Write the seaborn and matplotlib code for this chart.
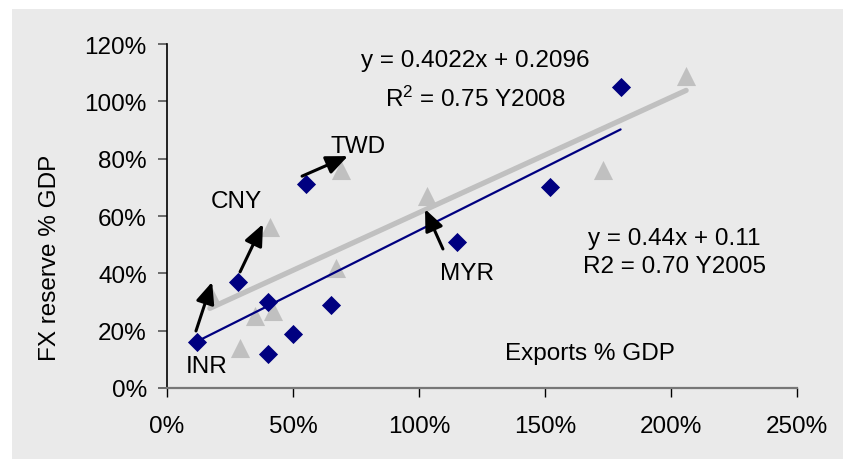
import matplotlib
matplotlib.use("Agg")
import matplotlib.pyplot as plt
from matplotlib.patches import Rectangle
from matplotlib.ticker import PercentFormatter
import numpy as np
import pandas as pd
import seaborn as sns

# exports % GDP / FX reserve % GDP
exp_2005 = [12, 28, 40, 40, 50, 65, 55, 115, 152, 180]
fx_2005 = [16, 37, 30, 12, 19, 29, 71, 51, 70, 105]
exp_2008 = [17, 29, 35, 42, 41, 67, 69, 103, 173, 206]
fx_2008 = [33, 14, 25, 27, 56, 42, 76, 67, 76, 109]

# trend lines as printed on the chart (slope, intercept)
fit_2005 = (0.44, 0.11)
fit_2008 = (0.4022, 0.2096)

x_ticks = [0, 50, 100, 150, 200, 250]
y_ticks = [0, 20, 40, 60, 80, 100, 120]

# currency labels and arrows (2005 -> 2008)
cur_names = ["INR", "CNY", "TWD", "MYR"]
cur_label_xy = [(15.9, 5.6), (27.4, 63.1), (75.8, 82.4), (119, 38)]
arrow_tail = [(11.5, 19.9), (29.0, 40.5), (53.6, 73.9), (109.5, 48.5)]
arrow_head = [(17.9, 37.0), (38.1, 57.2), (71.8, 80.9), (102.4, 62.4)]

df05 = pd.DataFrame({"x": np.array(exp_2005) / 100, "y": np.array(fx_2005) / 100})
df08 = pd.DataFrame({"x": np.array(exp_2008) / 100, "y": np.array(fx_2008) / 100})


def trend(df, fit):
    xs = np.array([df["x"].min(), df["x"].max()])
    return pd.DataFrame({"x": xs, "y": fit[0] * xs + fit[1]})


sns.set_theme(style="ticks")
plt.rcParams["font.family"] = ["Liberation Sans", "DejaVu Sans"]
plt.rcParams["text.color"] = "black"
plt.rcParams["mathtext.fontset"] = "custom"
plt.rcParams["mathtext.rm"] = "Liberation Sans"
plt.rcParams["mathtext.it"] = "Liberation Sans:italic"
FS = 17.5

fig = plt.figure(figsize=(8.46, 4.6), dpi=100, facecolor="white")
fig.patches.append(Rectangle((12 / 846, 0), 831 / 846, 450 / 460,
                             transform=fig.transFigure, facecolor="#eaeaea",
                             edgecolor="none", zorder=-10))
ax = fig.add_axes([167 / 846, 71 / 460, 630 / 846, 344 / 460])
ax.set_facecolor("none")

sns.scatterplot(data=df08, x="x", y="y", marker="^", s=190, color="#c0c0c0",
                linewidth=0, ax=ax, zorder=2)
sns.lineplot(data=trend(df08, fit_2008), x="x", y="y", color="#c0c0c0",
             linewidth=3.8, ax=ax, zorder=3)
sns.lineplot(data=trend(df05, fit_2005), x="x", y="y", color="#000080",
             linewidth=1.6, ax=ax, zorder=4)
sns.scatterplot(data=df05, x="x", y="y", marker="D", s=95, color="#000080",
                linewidth=0, ax=ax, zorder=5)

for name, pos, t, h in zip(cur_names, cur_label_xy, arrow_tail, arrow_head):
    ax.annotate("", xy=(h[0] / 100, h[1] / 100), xytext=(t[0] / 100, t[1] / 100),
                arrowprops=dict(arrowstyle="-|>,head_length=0.65,head_width=0.28",
                                color="black", lw=2.2, mutation_scale=20,
                                shrinkA=0, shrinkB=0), zorder=6)
    ax.text(pos[0] / 100, pos[1] / 100, name, ha="center", va="baseline",
            fontsize=FS, color="black", zorder=7)

ax.text(1.222, 1.123, "y = 0.4022x + 0.2096", ha="center", va="baseline", fontsize=FS)
ax.text(1.222, 0.984, r"R$^{\mathrm{2}}$ = 0.75 Y2008", ha="center", va="baseline", fontsize=FS)
ax.text(2.012, 0.502, "y = 0.44x + 0.11", ha="center", va="baseline", fontsize=FS)
ax.text(2.012, 0.405, "R2 = 0.70 Y2005", ha="center", va="baseline", fontsize=FS)
ax.text(1.679, 0.101, "Exports % GDP", ha="center", va="baseline", fontsize=FS)
ax.text(-0.186, 0.381, "FX reserve % GDP", rotation=90, ha="center", va="center",
        fontsize=FS, transform=ax.transAxes)

ax.set_xlim(0, 2.5)
ax.set_ylim(0, 1.2)
ax.set_xticks(np.array(x_ticks) / 100)
ax.set_yticks(np.array(y_ticks) / 100)
ax.xaxis.set_major_formatter(PercentFormatter(1.0, decimals=0))
ax.yaxis.set_major_formatter(PercentFormatter(1.0, decimals=0))
ax.set_xlabel("")
ax.set_ylabel("")

for side in ["top", "right"]:
    ax.spines[side].set_visible(False)
ax.spines["left"].set_color("black")
ax.spines["left"].set_linewidth(1.2)
ax.spines["bottom"].set_color("#777777")
ax.spines["bottom"].set_linewidth(1.6)
ax.tick_params(axis="x", length=6.5, width=1, color="black", pad=13, labelsize=FS,
               labelcolor="black")
ax.tick_params(axis="y", length=6.5, width=1.2, color="#555555", pad=8, labelsize=FS,
               labelcolor="black")

fig.savefig("out.png", dpi=100, facecolor="white")
